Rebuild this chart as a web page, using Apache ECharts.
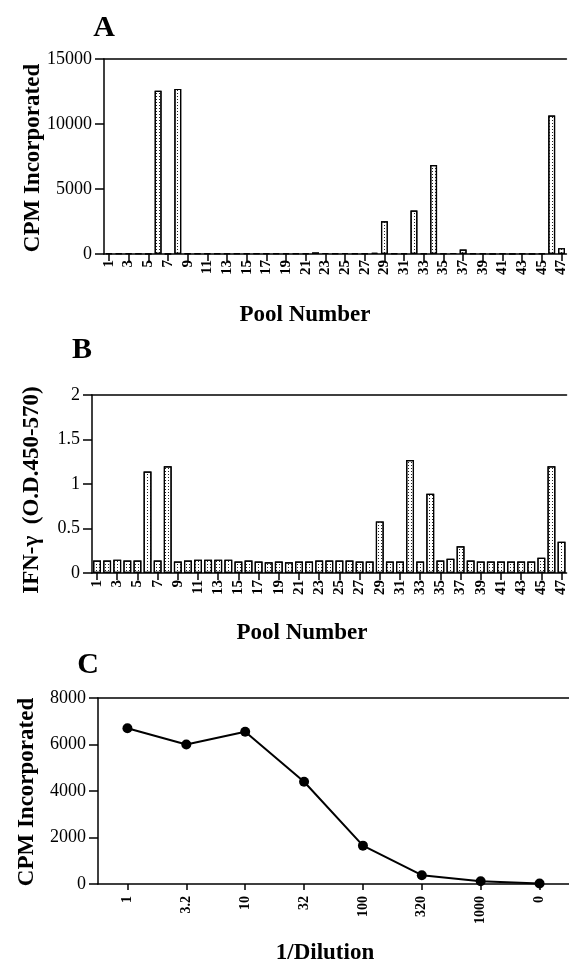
<!DOCTYPE html>
<html>
<head>
<meta charset="utf-8">
<script src="https://cdn.jsdelivr.net/npm/echarts@6/dist/echarts.min.js"></script>
<style>
html, body { margin: 0; padding: 0; background: #fff; }
#chart { width: 569px; height: 963px; }
</style>
</head>
<body>
<div id="chart"></div>
<script>
// pool numbers (panels A and B)
const pools = ['1','2','3','4','5','6','7','8','9','10','11','12','13','14','15','16',
  '17','18','19','20','21','22','23','24','25','26','27','28','29','30','31','32',
  '33','34','35','36','37','38','39','40','41','42','43','44','45','46','47'];

// A: CPM incorporated per pool
const cpmPools = [50, 60, 70, 40, 30, 12550, 30, 12700, 60, 70, 60, 50, 40, 60, 70, 60,
  60, 70, 60, 50, 70, 120, 80, 60, 80, 60, 50, 90, 2520, 60, 70, 3350,
  40, 6850, 40, 80, 350, 60, 40, 30, 40, 30, 40, 30, 40, 10650, 450];

// B: IFN-gamma O.D. per pool
const ifnPools = [0.14, 0.14, 0.15, 0.14, 0.14, 1.14, 0.14, 1.2, 0.13, 0.14, 0.15, 0.15, 0.15, 0.15, 0.13, 0.14,
  0.13, 0.12, 0.13, 0.12, 0.13, 0.13, 0.14, 0.14, 0.14, 0.14, 0.13, 0.13, 0.58, 0.13, 0.13, 1.27,
  0.13, 0.89, 0.14, 0.16, 0.3, 0.14, 0.13, 0.13, 0.13, 0.13, 0.13, 0.13, 0.17, 1.2, 0.35];

// C: dilution series
const dilutions = ['1', '3.2', '10', '32', '100', '320', '1000', '0'];
const cpmDilution = [6700, 6000, 6550, 4400, 1650, 380, 120, 20];

const serif = 'Liberation Serif';
const black = '#000';

// stippled bar fill
const dots = {
  symbol: 'rect',
  symbolSize: 1,
  dashArrayX: [1, 2],
  dashArrayY: [1, 2],
  color: '#222'
};

function bottomAxis(gridIndex, data, opts) {
  return {
    type: 'category',
    gridIndex: gridIndex,
    data: data,
    boundaryGap: true,
    axisLine: { lineStyle: { color: black, width: 1.5 } },
    axisTick: { show: true, interval: opts.interval, alignWithLabel: true, length: opts.tickLen, lineStyle: { color: black, width: 1.5 } },
    axisLabel: { interval: opts.interval, rotate: 90, margin: opts.margin, color: black, fontFamily: serif, fontWeight: 'bold', fontSize: opts.fontSize }
  };
}

function topAxis(gridIndex, data) {
  return {
    type: 'category',
    gridIndex: gridIndex,
    position: 'top',
    data: data,
    axisLine: { lineStyle: { color: black, width: 1.5 } },
    axisTick: { show: false },
    axisLabel: { show: false }
  };
}

function leftAxis(gridIndex, max, interval) {
  return {
    type: 'value',
    gridIndex: gridIndex,
    min: 0,
    max: max,
    interval: interval,
    splitLine: { show: false },
    axisLine: { show: true, lineStyle: { color: black, width: 1.5 } },
    axisTick: { show: true, length: 9, lineStyle: { color: black, width: 1.5 } },
    axisLabel: { margin: 12, color: black, fontFamily: serif, fontSize: 18, formatter: (v) => String(v) }
  };
}

function label(text, x, y, size, rotate) {
  return {
    type: 'text',
    x: x,
    y: y,
    rotation: rotate ? Math.PI / 2 : 0,
    style: {
      text: text,
      fontFamily: serif,
      fontWeight: 'bold',
      fontSize: size,
      fill: black,
      textAlign: 'center',
      textVerticalAlign: 'middle'
    }
  };
}

const chart = echarts.init(document.getElementById('chart'));

chart.setOption({
  animation: false,
  backgroundColor: '#fff',
  grid: [
    { left: 104, top: 59, width: 466, height: 195 },
    { left: 92, top: 395, width: 478, height: 178 },
    { left: 98, top: 698, width: 483, height: 186 }
  ],
  xAxis: [
    bottomAxis(0, pools, { interval: 1, tickLen: 7, margin: 6, fontSize: 15 }),
    bottomAxis(1, pools, { interval: 1, tickLen: 7, margin: 7, fontSize: 15 }),
    bottomAxis(2, dilutions, { interval: 0, tickLen: 6, margin: 12, fontSize: 14 }),
    topAxis(0, pools),
    topAxis(1, pools),
    topAxis(2, dilutions)
  ],
  yAxis: [
    leftAxis(0, 15000, 5000),
    leftAxis(1, 2, 0.5),
    leftAxis(2, 8000, 2000)
  ],
  series: [
    {
      type: 'bar',
      xAxisIndex: 0,
      yAxisIndex: 0,
      data: cpmPools,
      barCategoryGap: '30%',
      itemStyle: { color: '#fff', borderColor: black, borderWidth: 1.2, decal: dots }
    },
    {
      type: 'bar',
      xAxisIndex: 1,
      yAxisIndex: 1,
      data: ifnPools,
      barCategoryGap: '22%',
      itemStyle: { color: '#fff', borderColor: black, borderWidth: 1.2, decal: dots }
    },
    {
      type: 'line',
      xAxisIndex: 2,
      yAxisIndex: 2,
      data: cpmDilution,
      symbol: 'circle',
      symbolSize: 10,
      itemStyle: { color: black },
      lineStyle: { color: black, width: 2 }
    }
  ],
  graphic: [
    label('A', 104, 28, 30, false),
    label('B', 82, 350, 30, false),
    label('C', 88, 665, 30, false),
    label('CPM Incorporated', 33, 158, 23, true),
    label('IFN-\u03b3  (O.D.450-570)', 32, 490, 23, true),
    label('CPM Incorporated', 27, 792, 23, true),
    label('Pool Number', 305, 315, 23, false),
    label('Pool Number', 302, 633, 23, false),
    label('1/Dilution', 325, 953, 23, false)
  ]
});
</script>
</body>
</html>
